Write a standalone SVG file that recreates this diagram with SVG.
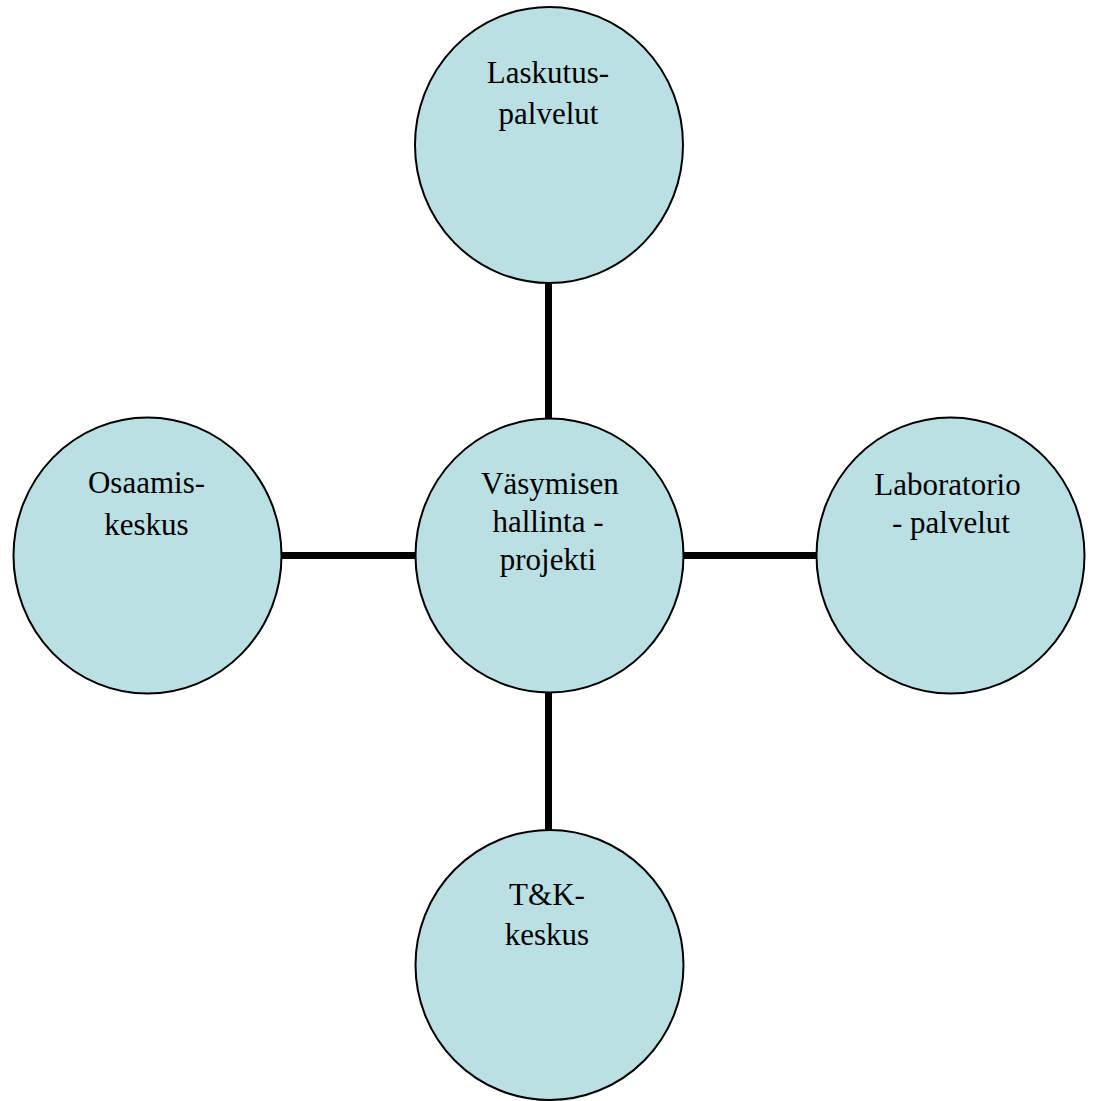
<svg xmlns="http://www.w3.org/2000/svg" width="1094" height="1101" viewBox="0 0 1094 1101">
  <style>
    .node { fill: #bbe0e3; stroke: #000; stroke-width: 2; }
    .label { font-family: "Liberation Serif", "Times New Roman", serif; font-size: 31px; fill: #000; text-anchor: middle; }
    .link { stroke: #000; stroke-width: 7; fill: none; }
  </style>
  <rect width="1094" height="1101" fill="#fff"/>

  <!-- connectors between hub and satellites -->
  <g id="connectors">
    <line class="link" x1="548.5" y1="282" x2="548.5" y2="419"/>
    <line class="link" x1="281" y1="555.5" x2="416" y2="555.5"/>
    <line class="link" x1="683" y1="555.5" x2="817" y2="555.5"/>
    <line class="link" x1="548.5" y1="692" x2="548.5" y2="831"/>
  </g>

  <!-- hub -->
  <g id="node-hub">
    <ellipse class="node" cx="549.5" cy="555.5" rx="134" ry="137"/>
    <text class="label" x="550" y="494">Väsymisen</text>
    <text class="label" x="548" y="532">hallinta -</text>
    <text class="label" x="548" y="570">projekti</text>
  </g>

  <g id="node-laskutus">
    <ellipse class="node" cx="549" cy="145" rx="134" ry="138"/>
    <text class="label" x="548" y="83">Laskutus-</text>
    <text class="label" x="548.5" y="124">palvelut</text>
  </g>

  <g id="node-osaamis">
    <ellipse class="node" cx="147.5" cy="555.5" rx="134" ry="138"/>
    <text class="label" x="146.5" y="493">Osaamis-</text>
    <text class="label" x="146.5" y="535">keskus</text>
  </g>

  <g id="node-laboratorio">
    <ellipse class="node" cx="950.5" cy="555.5" rx="134" ry="138"/>
    <text class="label" x="947.5" y="495">Laboratorio</text>
    <text class="label" x="951" y="533">- palvelut</text>
  </g>

  <g id="node-tk">
    <ellipse class="node" cx="549.5" cy="965" rx="134" ry="135"/>
    <text class="label" x="547" y="905">T&amp;K-</text>
    <text class="label" x="547" y="945">keskus</text>
  </g>
</svg>
